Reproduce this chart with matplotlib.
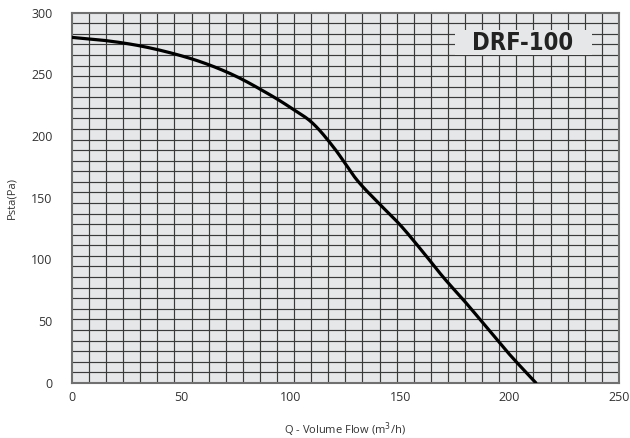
import matplotlib
matplotlib.use("Agg")
import matplotlib.pyplot as plt
from matplotlib.patches import Rectangle
import numpy as np

# fan curve DRF-100
flow = [0, 15, 30, 45, 60, 75, 90, 100, 110, 120, 130, 140, 150,
        160, 170, 180, 190, 200, 212]
pressure = [280, 277.5, 273.5, 267.5, 259.5, 248.5, 234, 223, 210.5, 190,
            165, 146, 128, 107, 85, 65, 44, 23, 0]

x_ticks = [0, 50, 100, 150, 200, 250]
y_ticks = [0, 50, 100, 150, 200, 250, 300]
model = "DRF-100"

bg = "#e6e7e8"


def catmull_rom(x, y, n=12):
    # smooth line through the read points
    p = np.column_stack([x, y]).astype(float)
    p = np.vstack([2 * p[0] - p[1], p, 2 * p[-1] - p[-2]])
    out = []
    t = np.linspace(0, 1, n, endpoint=False)[:, None]
    for i in range(1, len(p) - 2):
        p0, p1, p2, p3 = p[i - 1], p[i], p[i + 1], p[i + 2]
        seg = 0.5 * ((2 * p1) + (-p0 + p2) * t
                     + (2 * p0 - 5 * p1 + 4 * p2 - p3) * t ** 2
                     + (-p0 + 3 * p1 - 3 * p2 + p3) * t ** 3)
        out.append(seg)
    out.append(p[-2][None, :])
    out = np.vstack(out)
    return out[:, 0], out[:, 1]


fig = plt.figure(figsize=(6.3, 4.38), dpi=100)
ax = fig.add_axes([0.114, 0.126, 0.8685, 0.845])
ax.set_facecolor(bg)

ax.set_xlim(0, 250)
ax.set_ylim(0, 300)
ax.set_xticks(x_ticks)
ax.set_yticks(y_ticks)
ax.set_xticks(np.linspace(0, 250, 33), minor=True)
ax.set_yticks(np.linspace(0, 300, 36), minor=True)
ax.grid(which="minor", color="#3a3a3a", linewidth=0.85)
ax.grid(which="major", visible=False)
ax.tick_params(which="both", length=0)
ax.tick_params(axis="x", pad=6, labelsize=9, labelcolor="#333333")
ax.tick_params(axis="y", pad=14, labelsize=9, labelcolor="#333333")
for lab in ax.get_xticklabels() + ax.get_yticklabels():
    lab.set_family("Open Sans")
for s in ax.spines.values():
    s.set_color("#707070")
    s.set_linewidth(1.5)

sx, sy = catmull_rom(flow, pressure)
ax.plot(sx, sy, color="black", linewidth=2.3, zorder=5,
        solid_capstyle="round", solid_joinstyle="round")

# model name box
ax.add_patch(Rectangle((175, 265.7), 62.6, 20.3, facecolor=bg,
                       edgecolor="none", zorder=4))
ax.text(206, 275.5, model, ha="center", va="center", fontsize=17,
        fontweight="bold", fontstretch="condensed", color="#222222", zorder=6,
        family=["DejaVu Sans"])

ax.set_xlabel("Q - Volume Flow (m$^3$/h)", fontsize=8, family="Open Sans",
              color="#333333", labelpad=12)
ax.set_ylabel("Psta(Pa)", fontsize=8, family="Open Sans",
              color="#333333", labelpad=10)

fig.savefig("out.png", dpi=100, facecolor="white")
